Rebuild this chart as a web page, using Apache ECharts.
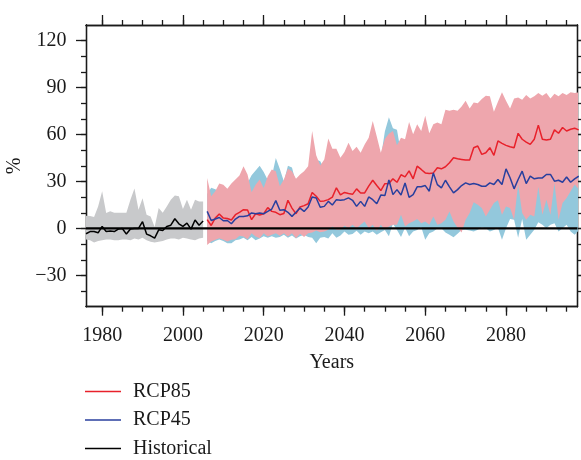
<!DOCTYPE html>
<html>
<head>
<meta charset="utf-8">
<script src="https://cdn.jsdelivr.net/npm/echarts@6/dist/echarts.min.js"></script>
<style>
  html, body { margin: 0; padding: 0; background: #ffffff; }
  #chart { width: 581px; height: 460px; }
</style>
</head>
<body>
<div id="chart"></div>
<script>
// Historical period (1976-2005): ensemble mean and spread, in %
const histYears = [1976,1977,1978,1979,1980,1981,1982,1983,1984,1985,1986,1987,1988,1989,1990,
                   1991,1992,1993,1994,1995,1996,1997,1998,1999,2000,2001,2002,2003,2004,2005];
const histMean  = [-3.4,-2.0,-2.0,-2.8,1.3,-2.0,-1.7,-2.0,-0.4,0.0,-3.6,-0.4,0.0,0.0,4.3,
                   -3.6,-4.7,-6.2,-0.9,-1.3,1.3,2.1,6.2,3.0,1.3,3.4,-0.4,5.4,2.1,4.7];
const histUpper = [8.1,8.0,7.3,14.0,23.8,9.8,11.0,10.0,10.0,10.0,10.0,18.4,25.5,12.0,19.3,
                   8.8,7.7,1.0,13.0,10.0,14.0,18.4,21.0,20.5,12.4,18.4,12.0,18.4,17.3,17.3];
const histLower = [-7.0,-7.5,-9.0,-8.0,-7.5,-7.0,-7.0,-7.5,-7.5,-7.0,-7.0,-7.5,-6.5,-7.0,-6.0,
                   -7.5,-8.5,-9.0,-8.5,-8.0,-7.0,-6.5,-6.5,-7.0,-6.0,-6.5,-7.0,-7.5,-6.5,-6.0];

// Scenario period (2006-2098)
const rcpYears = [2006,2007,2008,2009,2010,2011,2012,2013,2014,2015,2016,2017,2018,2019,2020,
                  2021,2022,2023,2024,2025,2026,2027,2028,2029,2030,2031,2032,2033,2034,2035,
                  2036,2037,2038,2039,2040,2041,2042,2043,2044,2045,2046,2047,2048,2049,2050,
                  2051,2052,2053,2054,2055,2056,2057,2058,2059,2060,2061,2062,2063,2064,2065,
                  2066,2067,2068,2069,2070,2071,2072,2073,2074,2075,2076,2077,2078,2079,2080,
                  2081,2082,2083,2084,2085,2086,2087,2088,2089,2090,2091,2092,2093,2094,2095,
                  2096,2097,2098];

const rcp85Mean = [5.6,1.9,6.6,9.2,6.6,6.4,5.4,8.8,10.3,12.0,11.8,5.6,9.4,8.6,9.4,
                   13.3,10.9,10.3,8.8,9.6,18.0,13.0,9.4,13.7,14.6,15.8,23.0,20.6,17.3,17.6,
                   18.4,20.0,26.0,21.4,23.0,22.3,21.8,25.3,22.7,22.7,27.0,30.8,27.4,24.2,28.6,
                   28.7,31.7,29.5,34.3,33.0,36.8,31.7,39.8,37.7,35.5,35.1,35.5,38.8,38.1,39.4,
                   42.0,45.2,44.5,44.1,43.7,43.7,51.6,52.7,47.3,48.4,51.6,46.7,55.9,54.4,53.1,
                   52.2,51.6,60.8,57.0,55.2,53.7,57.0,66.0,57.0,56.5,57.0,63.0,60.8,64.5,62.3,
                   63.4,64.0,63.0];
const rcp85Upper = [32.3,20.6,23.8,28.7,28.0,25.3,28.7,31.3,33.8,39.8,34.5,23.1,28.0,31.3,25.9,
                    33.4,37.7,36.6,27.0,31.3,38.1,36.6,31.7,34.5,36.6,39.8,62.3,46.7,40.3,44.1,
                    57.4,51.0,51.0,45.2,48.8,54.8,49.5,52.2,48.4,53.7,58.0,68.7,58.7,48.4,57.2,
                    60.5,62.3,53.1,58.0,57.0,68.0,60.2,66.6,62.3,72.0,60.8,66.6,67.7,66.6,75.8,
                    75.2,75.8,75.2,78.0,81.6,76.7,80.5,80.0,82.7,84.8,84.4,74.5,81.0,87.0,81.6,
                    76.7,83.1,83.7,82.2,85.2,83.1,84.4,86.5,84.8,86.5,83.1,86.1,84.4,86.5,85.2,
                    87.0,86.5,87.0];
const rcp85Lower = [-10.5,-8.4,-7.3,-6.2,-7.3,-8.4,-7.3,-6.9,-4.7,-5.1,-6.9,-3.0,-5.1,-6.2,-3.0,
                    -5.1,-4.1,-3.0,-4.7,-3.0,-5.1,-3.0,-6.2,-3.4,-5.5,-3.0,-2.6,-1.3,-2.5,-1.9,
                    -0.9,1.3,-0.9,-0.9,1.7,0.2,2.4,0.2,2.4,4.5,0.2,2.4,-1.5,2.4,-0.9,
                    1.3,2.4,2.4,8.8,1.3,3.4,4.5,6.0,3.4,4.5,2.4,7.7,2.4,3.4,5.6,
                    10.9,4.5,0.5,-2.6,5.6,9.9,16.7,15.2,13.1,7.7,12.0,16.3,18.0,8.8,14.1,
                    13.1,5.6,28.1,9.9,5.6,8.8,7.7,26.6,8.8,18.4,8.8,29.1,5.6,16.3,19.5,
                    23.8,28.1,25.0];

const rcp45Mean = [10.9,5.1,6.0,7.0,4.9,5.1,3.0,6.0,7.7,7.7,8.1,9.9,9.4,9.9,9.4,
                   10.9,12.4,17.8,11.6,12.0,10.3,7.7,10.3,13.0,10.9,13.7,20.1,19.5,13.5,14.1,
                   17.3,15.0,18.4,18.0,18.4,19.5,18.0,14.1,17.3,14.1,20.1,18.4,15.8,21.3,21.0,
                   31.0,21.6,24.8,21.4,29.1,19.9,21.6,26.6,26.6,27.4,23.8,35.5,28.0,25.9,30.8,
                   26.6,22.7,24.8,27.4,29.1,28.1,28.7,28.1,27.0,27.0,29.1,28.1,31.3,28.1,38.1,
                   32.4,25.3,31.3,36.6,28.7,33.4,31.7,32.3,32.3,34.5,34.5,30.2,30.8,29.5,32.9,
                   29.5,31.7,33.4];
const rcp45Upper = [22,26,25,24,22,21,24,25,27,30,29,34,37,40,36,
                    31,33,45,38,30,40,39,29,33,34,35,41,44,43,38,
                    42,40,41,40,42,44,41,40,43,44,47,45,46,45,62,
                    71,64,63,48,50,47,49,51,50,56,52,58,54,52,55,
                    53,51,54,56,55,53,57,56,55,54,58,56,59,57,62,
                    60,55,61,62,58,60,59,61,60,63,62,59,60,58,62,
                    60,61,62];
const rcp45Lower = [-8.0,-9.5,-8.0,-7.0,-8.0,-9.5,-9.4,-7.5,-7.0,-6.0,-7.5,-5.5,-7.5,-6.5,-5.0,
                    -6.0,-5.0,-6.0,-5.5,-4.0,-6.0,-4.5,-6.5,-5.0,-4.0,-5.5,-6.0,-9.4,-6.0,-5.5,
                    -6.5,-3.0,-6.0,-4.5,-2.0,-4.0,-3.5,-1.5,-4.0,-2.0,-3.0,-2.0,-4.0,-2.5,-1.0,
                    -5.0,3.0,-1.0,-5.5,0.5,-5.0,-2.0,-1.0,1.0,-7.3,-3.0,-2.0,0.0,0.2,-2.6,
                    -4.0,-5.6,-3.4,-1.0,-0.9,-1.3,-1.9,-0.9,0.6,0.2,-1.9,-1.0,0.5,-7.3,0.2,
                    6.0,5.6,-6.0,6.0,-7.3,-4.0,-0.9,4.0,2.4,0.2,2.4,3.4,-2.0,0.2,2.4,
                    -2.0,-4.0,-1.3];

// Axis ticks
const xLabelTicks = [1980,2000,2020,2040,2060,2080];
const xMinorTicks = [1980,1985,1990,1995,2000,2005,2010,2015,2020,2025,2030,2035,2040,
                     2045,2050,2055,2060,2065,2070,2075,2080,2085,2090,2095];
const yLabelTicks = [-30,0,30,60,90,120];
const yMinorTicks = [-40,-30,-20,-10,0,10,20,30,40,50,60,70,80,90,100,110,120];

const FONT = '"Liberation Serif", "DejaVu Serif", serif';
const INK = '#1a1a1a';
const X_MIN = 1976, X_MAX = 2097.7, Y_MIN = -50, Y_MAX = 130;

const pairs = (xs, ys) => xs.map((x, i) => [x, ys[i]]);

// Shaded spread between a lower and an upper bound, drawn as one polygon
function band(id, years, lower, upper, color) {
  return {
    name: id, type: 'custom', silent: true, clip: true,
    data: years.map((y, i) => [y, lower[i], upper[i]]),
    encode: { x: 0, y: [1, 2] },
    renderItem: (params, api) => {
      if (params.dataIndex !== 0) return null;
      const top = years.map((y, i) => api.coord([y, upper[i]]));
      const bottom = years.map((y, i) => api.coord([y, lower[i]])).reverse();
      return {
        type: 'polygon',
        shape: { points: top.concat(bottom) },
        style: { fill: color, stroke: null }
      };
    }
  };
}

function xAxisDef(position, ticks, len, withLabels) {
  return {
    type: 'value', position: position, min: X_MIN, max: X_MAX,
    splitLine: { show: false },
    axisLine: { show: true, onZero: false, lineStyle: { color: INK, width: 1.3 } },
    axisTick: { show: true, inside: false, length: len, customValues: ticks,
                lineStyle: { color: INK, width: 1.3 } },
    axisLabel: withLabels
      ? { show: true, customValues: xLabelTicks, margin: 19,
          fontFamily: FONT, fontSize: 20, color: INK, formatter: v => String(v) }
      : { show: false },
    name: withLabels ? 'Years' : '',
    nameLocation: 'middle', nameGap: 46,
    nameTextStyle: { fontFamily: FONT, fontSize: 20, color: INK }
  };
}

function yAxisDef(position, ticks, len, withLabels) {
  return {
    type: 'value', position: position, min: Y_MIN, max: Y_MAX,
    splitLine: { show: false },
    axisLine: { show: true, onZero: false, lineStyle: { color: INK, width: 1.3 } },
    axisTick: { show: true, inside: false, length: len, customValues: ticks,
                lineStyle: { color: INK, width: 1.3 } },
    axisLabel: withLabels
      ? { show: true, customValues: yLabelTicks, margin: 19.5,
          fontFamily: FONT, fontSize: 20, color: INK,
          formatter: v => (v < 0 ? '\u2212' + Math.abs(v) : String(v)) }
      : { show: false },
    name: withLabels ? '%' : '',
    nameLocation: 'middle', nameGap: 58, nameRotate: 90,
    nameTextStyle: { fontFamily: FONT, fontSize: 20, color: INK }
  };
}

const chart = echarts.init(document.getElementById('chart'), null, { renderer: 'canvas' });

chart.setOption({
  animation: false,
  backgroundColor: '#ffffff',
  grid: { left: 86, right: 3.5, top: 25, bottom: 153.3,
          containLabel: false, outerBoundsMode: 'none' },
  xAxis: [
    xAxisDef('bottom', xLabelTicks, 9, true),
    xAxisDef('bottom', xMinorTicks, 5, false),
    xAxisDef('top', xLabelTicks, 10, false),
    xAxisDef('top', xMinorTicks, 5, false)
  ],
  yAxis: [
    yAxisDef('left', yLabelTicks, 10, true),
    yAxisDef('left', yMinorTicks, 5, false),
    yAxisDef('right', yLabelTicks, 10, false),
    yAxisDef('right', yMinorTicks, 5, false)
  ],
  legend: {
    data: ['RCP85', 'RCP45', 'Historical'],
    orient: 'vertical', left: 85, top: 381.5, padding: 0,
    icon: 'rect', itemWidth: 36, itemHeight: 1.3, itemGap: 8.5,
    textStyle: { fontFamily: FONT, fontSize: 20, color: INK, lineHeight: 20,
                 padding: [0, 0, 0, 7] },
    selectedMode: false
  },
  series: [
    band('hist-range', histYears, histLower, histUpper, '#c8c9cb'),
    band('rcp45-range', rcpYears, rcp45Lower, rcp45Upper, '#93c8dc'),
    band('rcp85-range', rcpYears, rcp85Lower, rcp85Upper, '#eea6ad'),
    {
      name: 'zero', type: 'line', symbol: 'none', silent: true,
      data: [[X_MIN, 0], [X_MAX, 0]],
      lineStyle: { color: '#000000', width: 2.2 }
    },
    {
      name: 'RCP85', type: 'line', symbol: 'none', data: pairs(rcpYears, rcp85Mean),
      color: '#e8212b', lineStyle: { color: '#e8212b', width: 1.5 }
    },
    {
      name: 'RCP45', type: 'line', symbol: 'none', data: pairs(rcpYears, rcp45Mean),
      color: '#283f9e', lineStyle: { color: '#283f9e', width: 1.5 }
    },
    {
      name: 'Historical', type: 'line', symbol: 'none', data: pairs(histYears, histMean),
      color: '#000000', lineStyle: { color: '#000000', width: 1.5 }
    }
  ]
});
</script>
</body>
</html>
